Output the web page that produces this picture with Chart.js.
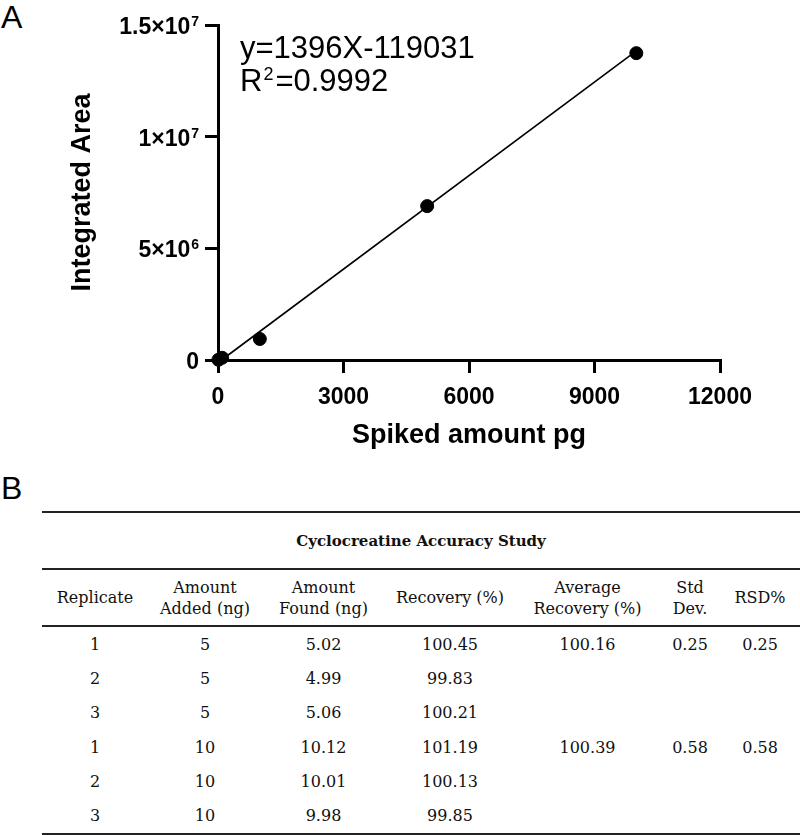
<!DOCTYPE html>
<html>
<head>
<meta charset="utf-8">
<script src="https://cdn.jsdelivr.net/npm/chart.js@4.4.1/dist/chart.umd.min.js"></script>
<style>
  body { margin: 0; background: #fff; width: 800px; height: 835px; position: relative; overflow: hidden; }
  #chart-wrap { position: absolute; left: 0; top: 0; width: 800px; height: 460px; }
  .panel-label { position: absolute; font-family: 'Liberation Sans', Arial, sans-serif; font-size: 32px; color: #000; line-height: 1; }
  #table-wrap { position: absolute; left: 42px; top: 511px; width: 758px; }
  table { border-collapse: collapse; width: 758px; table-layout: fixed; font-family: 'DejaVu Serif', serif; font-size: 16px; color: #111; }
  td, th { text-align: center; padding: 0; font-weight: normal; }
  .title-row th { font-weight: bold; font-size: 15px; height: 55px; border-top: 2px solid #222; border-bottom: 2px solid #222; }
  .head-row th { height: 55px; line-height: 21px; border-bottom: 2px solid #222; }
  tbody td { height: 34.3px; }
  tbody tr:last-child td { border-bottom: 2px solid #222; }
</style>
</head>
<body>
<div class="panel-label" style="left:1px; top:1px;">A</div>
<div class="panel-label" style="left:1px; top:472px;">B</div>
<div id="chart-wrap"><canvas id="chart-calib"></canvas></div>
<div id="table-wrap"><table id="accuracy-table"></table></div>

<script>
// calibration points (pg vs integrated area)
var spikedAmounts = [10, 100, 1000, 5000, 10000];
var integratedAreas = [10000, 100000, 940000, 6890000, 13740000];

// regression line ends, y=1396X-119031
var fitX = [85, 10000];
var fitY = [0, 13840969];

var xTickValues = [0, 3000, 6000, 9000, 12000];
var xTickLabels = ['0', '3000', '6000', '9000', '12000'];
var yTickValues = [0, 5000000, 10000000, 15000000];
var yTickBase = ['0', '5×10', '1×10', '1.5×10'];
var yTickExp = ['', '6', '7', '7'];

// table B
var tableTitle = 'Cyclocreatine Accuracy Study';
var tableHeaders = ['Replicate', 'Amount<br>Added (ng)', 'Amount<br>Found (ng)', 'Recovery (%)', 'Average<br>Recovery (%)', 'Std<br>Dev.', 'RSD%'];
var replicates = ['1', '2', '3', '1', '2', '3'];
var amountAdded = ['5', '5', '5', '10', '10', '10'];
var amountFound = ['5.02', '4.99', '5.06', '10.12', '10.01', '9.98'];
var recovery = ['100.45', '99.83', '100.21', '101.19', '100.13', '99.85'];
var avgRecovery = ['100.16', '', '', '100.39', '', ''];
var stdDev = ['0.25', '', '', '0.58', '', ''];
var rsd = ['0.25', '', '', '0.58', '', ''];

var colWidths = [106, 114, 123, 130, 145, 60, 80];

function buildTable() {
	var html = '<colgroup>';
	colWidths.forEach(function (w) { html += '<col style="width:' + w + 'px">'; });
	html += '</colgroup><thead>';
	html += '<tr class="title-row"><th colspan="7">' + tableTitle + '</th></tr>';
	html += '<tr class="head-row">';
	tableHeaders.forEach(function (h) { html += '<th>' + h + '</th>'; });
	html += '</tr></thead><tbody>';
	for (var i = 0; i < replicates.length; i++) {
		var cells = [replicates[i], amountAdded[i], amountFound[i], recovery[i], avgRecovery[i], stdDev[i], rsd[i]];
		html += '<tr>';
		cells.forEach(function (c) { html += '<td>' + c + '</td>'; });
		html += '</tr>';
	}
	html += '</tbody>';
	document.getElementById('accuracy-table').innerHTML = html;
}
buildTable();

var SANS = "'Liberation Sans', Arial, sans-serif";

// equation text + y tick labels with real superscripts
var annotationPlugin = {
	id: 'annotations',
	afterDraw: function (chart) {
		var ctx = chart.ctx;
		ctx.save();
		ctx.fillStyle = '#000';
		ctx.textBaseline = 'alphabetic';
		ctx.textAlign = 'left';
		ctx.font = '31px ' + SANS;
		ctx.fillText('y=1396X-119031', 240, 58);
		ctx.fillText('R', 240, 91);
		var rw = ctx.measureText('R').width;
		ctx.font = '18px ' + SANS;
		ctx.fillText('2', 240 + rw + 1, 80);
		var sw = ctx.measureText('2').width;
		ctx.font = '31px ' + SANS;
		ctx.fillText('=0.9992', 240 + rw + sw + 3, 91);

		var yScale = chart.scales.y;
		var right = yScale.right - 19;
		yTickValues.forEach(function (v, i) {
			var py = yScale.getPixelForValue(v);
			ctx.font = 'bold 14px ' + SANS;
			var ew = yTickExp[i] ? ctx.measureText(yTickExp[i]).width + 1 : 0;
			if (yTickExp[i]) {
				ctx.textAlign = 'right';
				ctx.fillText(yTickExp[i], right, py + 1);
			}
			ctx.font = 'bold 23px ' + SANS;
			ctx.textAlign = 'right';
			ctx.fillText(yTickBase[i], right - ew, py + 9);
		});
		ctx.restore();
	}
};

var axisGrid = { display: true, drawOnChartArea: false, drawTicks: true, tickLength: 13, color: '#000', lineWidth: 3 };
var axisBorder = { display: true, color: '#000', width: 3 };

window.calibChart = new Chart(document.getElementById('chart-calib').getContext('2d'), {
	type: 'scatter',
	data: {
		datasets: [{
			data: spikedAmounts.map(function (x, i) { return {x: x, y: integratedAreas[i]}; }),
			backgroundColor: '#000',
			borderColor: '#000',
			pointRadius: 6.5,
			pointHoverRadius: 6.5,
			clip: false
		}, {
			data: fitX.map(function (x, i) { return {x: x, y: fitY[i]}; }),
			showLine: true,
			borderColor: '#000',
			borderWidth: 1.6,
			pointRadius: 0,
			clip: false
		}]
	},
	options: {
		responsive: true,
		maintainAspectRatio: false,
		animation: false,
		layout: { padding: { left: 0, top: 25, right: 80, bottom: 0 } },
		plugins: { legend: { display: false }, tooltip: { enabled: false } },
		scales: {
			x: {
				type: 'linear', min: 0, max: 12000,
				grid: axisGrid, border: axisBorder,
				afterBuildTicks: function (scale) { scale.ticks = xTickValues.map(function (v) { return {value: v}; }); },
				afterFit: function (scale) { scale.height = 100; },
				ticks: {
					color: '#000', padding: 11, maxRotation: 0,
					font: { family: SANS, size: 23, weight: 'bold' },
					callback: function (v) { return xTickLabels[xTickValues.indexOf(v)]; }
				},
				title: {
					display: true, text: 'Spiked amount pg', color: '#000',
					font: { family: SANS, size: 27, weight: 'bold' },
					padding: { top: 0, bottom: 8 }
				}
			},
			y: {
				type: 'linear', min: 0, max: 15000000,
				grid: axisGrid, border: axisBorder,
				afterBuildTicks: function (scale) { scale.ticks = yTickValues.map(function (v) { return {value: v}; }); },
				afterFit: function (scale) { scale.width = 218; },
				ticks: { display: false },
				title: {
					display: true, text: 'Integrated Area', color: '#000',
					font: { family: SANS, size: 27, weight: 'bold' },
					padding: { top: 66, bottom: 0 }
				}
			}
		}
	},
	plugins: [annotationPlugin]
});
</script>
</body>
</html>
